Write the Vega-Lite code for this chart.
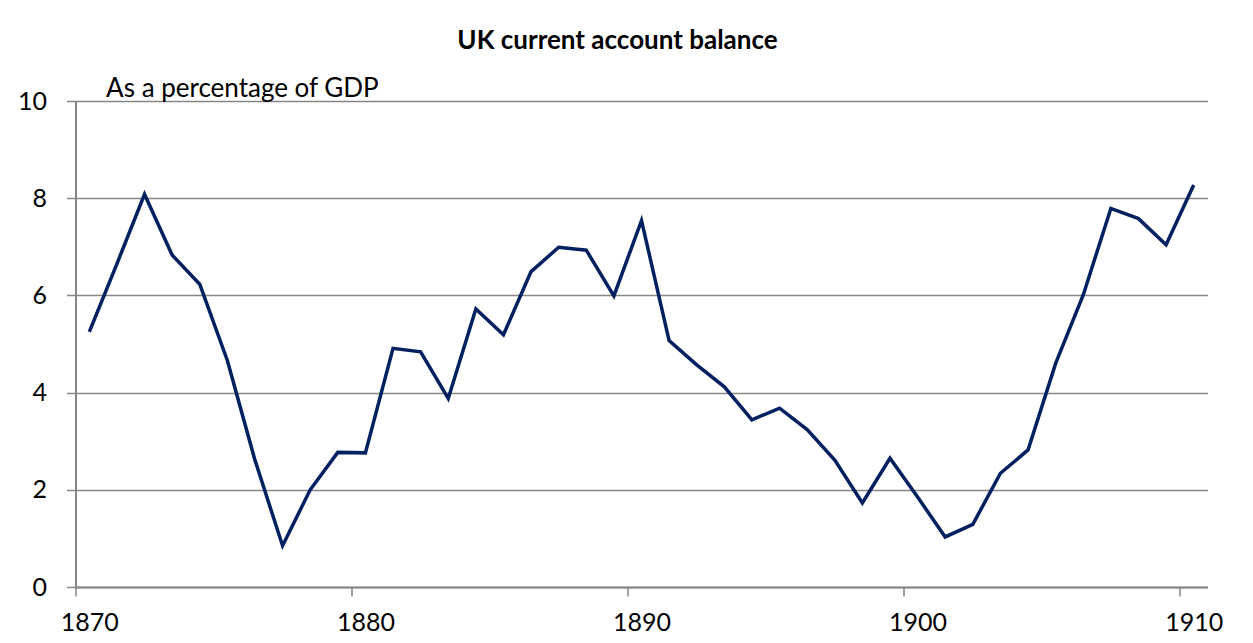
{
  "$schema": "https://vega.github.io/schema/vega-lite/v6.json",
  "width": 1132,
  "height": 486,
  "autosize": {"type": "none"},
  "padding": {"left": 75.5, "top": 101, "right": 45.5, "bottom": 56},
  "background": "white",
  "title": {
    "text": "UK current account balance",
    "font": "Lato",
    "fontSize": 26,
    "fontWeight": "bold",
    "color": "black",
    "anchor": "middle",
    "dx": -24,
    "offset": 22
  },
  "config": {
    "view": {"stroke": null},
    "font": "Lato"
  },
  "data": {
    "values": [
      {"year": 1870, "balance": 5.25},
      {"year": 1871, "balance": 6.65},
      {"year": 1872, "balance": 8.08},
      {"year": 1873, "balance": 6.83},
      {"year": 1874, "balance": 6.23},
      {"year": 1875, "balance": 4.66},
      {"year": 1876, "balance": 2.61},
      {"year": 1877, "balance": 0.85},
      {"year": 1878, "balance": 2.0},
      {"year": 1879, "balance": 2.77},
      {"year": 1880, "balance": 2.76},
      {"year": 1881, "balance": 4.91},
      {"year": 1882, "balance": 4.84},
      {"year": 1883, "balance": 3.88},
      {"year": 1884, "balance": 5.72},
      {"year": 1885, "balance": 5.19},
      {"year": 1886, "balance": 6.49},
      {"year": 1887, "balance": 6.99},
      {"year": 1888, "balance": 6.93},
      {"year": 1889, "balance": 5.99},
      {"year": 1890, "balance": 7.54},
      {"year": 1891, "balance": 5.07},
      {"year": 1892, "balance": 4.57},
      {"year": 1893, "balance": 4.12},
      {"year": 1894, "balance": 3.44},
      {"year": 1895, "balance": 3.68},
      {"year": 1896, "balance": 3.24},
      {"year": 1897, "balance": 2.61},
      {"year": 1898, "balance": 1.73},
      {"year": 1899, "balance": 2.65},
      {"year": 1900, "balance": 1.85},
      {"year": 1901, "balance": 1.03},
      {"year": 1902, "balance": 1.29},
      {"year": 1903, "balance": 2.34},
      {"year": 1904, "balance": 2.82},
      {"year": 1905, "balance": 4.6},
      {"year": 1906, "balance": 6.01},
      {"year": 1907, "balance": 7.79},
      {"year": 1908, "balance": 7.58},
      {"year": 1909, "balance": 7.04},
      {"year": 1910, "balance": 8.27}
    ]
  },
  "layer": [
    {
      "mark": {"type": "line", "color": "#002060", "strokeWidth": 3.5, "strokeJoin": "miter", "clip": false},
      "encoding": {
        "x": {
          "field": "year",
          "type": "quantitative",
          "scale": {"domain": [1869.5, 1910.5], "nice": false, "zero": false},
          "axis": {
            "title": null,
            "values": [1870, 1880, 1890, 1900, 1910],
            "format": "d",
            "grid": false,
            "domainColor": "#868686",
            "domainWidth": 2,
            "tickColor": "#868686",
            "tickWidth": 1.5,
            "tickSize": 9,
            "tickOffset": -13.8,
            "labelOffset": 13.8,
            "labelPadding": 14,
            "labelFont": "Lato",
            "labelFontSize": 25,
            "labelColor": "black",
            "labelFlush": false,
            "labelOverlap": false
          }
        },
        "y": {
          "field": "balance",
          "type": "quantitative",
          "scale": {"domain": [0, 10], "nice": false},
          "axis": {
            "title": null,
            "values": [0, 2, 4, 6, 8, 10],
            "grid": true,
            "gridColor": "#868686",
            "gridWidth": 1.5,
            "domainColor": "#868686",
            "domainWidth": 2,
            "tickColor": "#868686",
            "tickWidth": 1.5,
            "tickSize": 9,
            "labelPadding": 20,
            "labelFont": "Lato",
            "labelFontSize": 25,
            "labelColor": "black"
          }
        }
      }
    },
    {
      "data": {"values": [{"label": "As a percentage of GDP"}]},
      "mark": {"type": "text", "font": "Lato", "fontSize": 26, "color": "black", "align": "left", "baseline": "alphabetic", "dx": 3, "dy": -4},
      "encoding": {
        "text": {"field": "label"},
        "x": {"datum": 1870.5, "type": "quantitative"},
        "y": {"datum": 10, "type": "quantitative"}
      }
    }
  ]
}
